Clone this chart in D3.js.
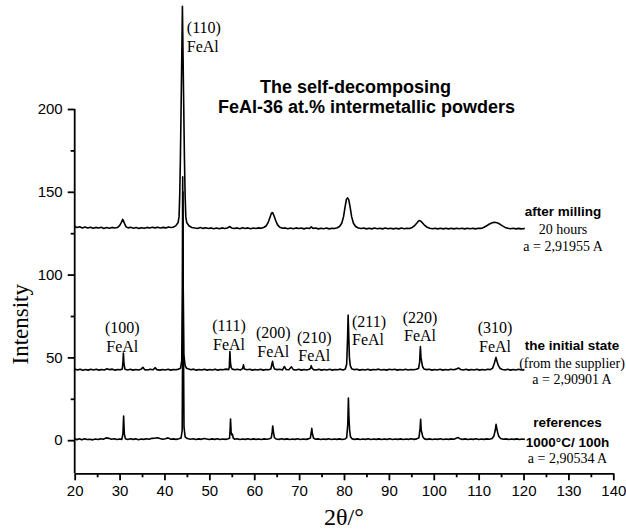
<!DOCTYPE html>
<html>
<head>
<meta charset="utf-8">
<script src="https://cdn.jsdelivr.net/npm/d3@7"></script>
<style>
  body { margin: 0; background: #ffffff; }
  svg { display: block; }
</style>
</head>
<body>
<svg id="xrd-chart"></svg>
<script>
// Diffraction patterns as [2theta, intensity] pairs

// references, 1000 C / 100 h
const referencePattern = [
  [20, 1], [20.5, 0.3], [21, 0.9], [21.6, 0.2], [22.2, 0.8], [22.8, 0.4], [23.4, 0.6], [24, 0.2],
  [24.6, 0.7], [25.2, 0.4], [25.8, 0.9], [26.4, 0.6], [27, 1.4], [27.6, 1.1], [28.2, 0.6], [28.8, 0.9],
  [29.4, 0.4], [30, 0.7], [30.5, 0.5], [30.75, 4], [30.9, 14.6], [31.05, 4], [31.3, 0.8], [31.8, 0.4],
  [32.4, 0.9], [33, 0.5], [33.6, 0.8], [34.2, 0.3], [34.8, 0.7], [35.4, 0.5], [36, 0.9], [36.6, 0.6],
  [37.2, 1.1], [37.8, 1.2], [38.4, 1.5], [39, 1.0], [39.6, 0.6], [40.2, 0.9], [40.8, 1.4], [41.4, 0.6],
  [42, 0.8], [42.6, 0.5], [43.2, 0.9], [43.7, 1.3], [43.95, 6], [44.05, 60], [44.12, 150], [44.2, 70],
  [44.35, 8], [44.6, 2], [45.1, 1], [45.8, 0.6], [46.4, 0.9], [47, 0.4], [47.6, 0.8], [48.2, 0.5],
  [48.8, 1.0], [49.4, 0.7], [50, 0.4], [50.6, 0.8], [51.2, 0.5], [51.8, 0.9], [52.4, 0.4], [53, 0.7],
  [53.6, 0.5], [54.2, 0.9], [54.5, 1.2], [54.62, 6], [54.72, 12.8], [54.85, 5], [55.0, 3.2], [55.15, 3.6],
  [55.3, 1.4], [55.6, 0.6], [56.2, 0.9], [56.8, 0.4], [57.4, 0.7], [58, 0.5], [58.6, 0.9], [59.2, 0.4],
  [59.8, 0.8], [60.4, 0.5], [61, 0.7], [61.6, 0.4], [62.2, 0.8], [62.8, 0.6], [63.4, 0.9], [63.8, 1.4],
  [64.0, 5], [64.12, 8.6], [64.3, 4.5], [64.5, 1.5], [64.9, 0.7], [65.5, 0.5], [66.1, 0.9], [66.7, 0.5],
  [67.3, 0.8], [67.9, 0.4], [68.5, 0.7], [69.1, 0.5], [69.7, 0.9], [70.3, 0.4], [70.9, 0.7], [71.5, 0.5],
  [72.1, 0.8], [72.5, 1.3], [72.7, 4.5], [72.82, 7.2], [72.95, 4], [73.2, 1.3], [73.6, 0.6], [74.2, 0.8],
  [74.8, 0.4], [75.4, 0.7], [76, 0.5], [76.6, 0.9], [77.2, 0.4], [77.8, 0.7], [78.4, 0.5], [79, 0.8],
  [79.6, 0.4], [80.2, 0.7], [80.6, 1.5], [80.85, 10], [80.98, 25.5], [81.1, 14], [81.25, 6], [81.45, 2],
  [81.8, 0.8], [82.4, 0.5], [83, 0.8], [83.6, 0.4], [84.2, 0.7], [84.8, 0.5], [85.4, 0.9], [86, 0.4],
  [86.6, 0.7], [87.2, 0.5], [87.8, 0.8], [88.4, 0.4], [89, 0.7], [89.6, 0.5], [90.2, 0.9], [90.8, 0.4],
  [91.4, 0.7], [92, 0.5], [92.6, 0.8], [93.2, 0.4], [93.8, 0.7], [94.4, 0.5], [95, 0.9], [95.6, 0.5],
  [96.2, 0.8], [96.7, 1.5], [96.95, 7], [97.08, 12.6], [97.2, 6], [97.35, 4.5], [97.55, 2], [97.9, 0.8],
  [98.5, 0.5], [99.1, 0.8], [99.7, 0.4], [100.3, 0.7], [100.9, 0.5], [101.5, 0.9], [102.1, 0.4], [102.7, 0.7],
  [103.3, 0.5], [103.9, 0.8], [104.5, 0.6], [105.1, 1.3], [105.4, 1.6], [105.8, 0.9], [106.4, 0.5], [107, 0.8],
  [107.6, 0.4], [108.2, 0.7], [108.8, 0.5], [109.4, 0.9], [110, 0.4], [110.6, 0.7], [111.2, 0.5], [111.8, 0.8],
  [112.4, 0.6], [113, 1], [113.4, 2.5], [113.7, 6], [113.88, 9.6], [114.05, 7], [114.25, 4.5], [114.5, 2.2],
  [114.9, 1], [115.5, 0.6], [116.1, 0.8], [116.7, 0.4], [117.3, 0.7], [117.9, 0.5], [118.5, 0.8], [119.1, 0.4],
  [119.7, 0.7], [120.3, 0.5]
];

// the initial state (from the supplier)
const initialPattern = [
  [20, 43], [20.6, 42.4], [21.2, 42.9], [21.8, 42.2], [22.4, 42.7], [23, 42.3], [23.6, 42.8], [24.2, 42.4],
  [24.8, 42.9], [25.4, 42.3], [26, 42.7], [26.6, 42.4], [27.2, 43.1], [27.8, 42.6], [28.4, 42.9], [29, 42.3],
  [29.6, 42.7], [30.2, 42.5], [30.6, 43], [30.75, 47], [30.85, 52.6], [30.98, 46], [31.2, 42.9], [31.8, 42.4],
  [32.4, 42.8], [33, 42.3], [33.6, 42.7], [34.2, 42.4], [34.8, 42.9], [35.2, 44], [35.6, 42.6], [36.2, 42.4],
  [36.8, 42.8], [37.5, 42.5], [37.9, 43.8], [38.3, 42.6], [39, 42.3], [39.6, 42.7], [40.2, 42.4], [40.8, 42.8],
  [41.4, 42.3], [42, 42.7], [42.6, 42.5], [43.2, 42.9], [43.6, 43.6], [43.85, 48], [43.98, 90], [44.06, 159],
  [44.15, 100], [44.3, 52], [44.6, 45], [44.9, 43.5], [45.4, 43], [45.9, 42.5], [46.5, 42.9], [47.1, 42.3],
  [47.7, 42.7], [48.3, 42.4], [48.9, 42.8], [49.5, 42.3], [50.1, 42.7], [50.7, 42.4], [51.3, 42.9], [51.9, 42.3],
  [52.5, 42.7], [53.1, 42.5], [53.7, 42.9], [54.3, 42.6], [54.45, 44], [54.58, 53.5], [54.7, 47], [54.85, 44],
  [55.1, 42.9], [55.7, 42.5], [56.3, 42.8], [56.9, 42.4], [57.4, 43.2], [57.6, 45.5], [57.8, 43], [58.4, 42.5],
  [59, 42.8], [59.6, 42.3], [60.2, 42.7], [60.8, 42.4], [61.4, 42.8], [62, 42.3], [62.6, 42.7], [63.2, 42.5],
  [63.7, 43], [63.95, 46], [64.08, 47.6], [64.25, 45], [64.5, 43], [65.1, 42.6], [65.7, 42.8], [66.3, 42.4],
  [66.7, 44.5], [67.1, 42.7], [67.7, 42.5], [68.3, 44.3], [68.7, 42.6], [69.3, 42.4], [69.9, 42.8], [70.5, 42.3],
  [71.1, 42.7], [71.7, 42.4], [72.3, 42.8], [72.55, 43.5], [72.7, 45], [72.85, 43.6], [73.2, 42.6], [73.8, 42.4],
  [74.4, 42.8], [75, 42.3], [75.6, 42.7], [76.2, 42.4], [76.8, 42.8], [77.4, 42.3], [78, 42.7], [78.6, 42.5],
  [79.2, 42.9], [79.8, 42.4], [80.3, 43], [80.6, 46], [80.8, 62], [80.92, 75.5], [81.05, 64], [81.2, 50],
  [81.4, 45], [81.7, 43.2], [82.3, 42.6], [82.9, 42.8], [83.5, 42.3], [84.1, 42.7], [84.7, 42.4], [85.3, 42.8],
  [85.9, 42.3], [86.5, 42.7], [87.1, 42.5], [87.7, 42.9], [88.3, 42.4], [88.9, 42.7], [89.5, 42.3], [90.1, 42.8],
  [90.7, 42.5], [91.3, 42.8], [91.9, 42.3], [92.5, 42.7], [93.1, 42.4], [93.7, 42.8], [94.3, 42.4], [94.9, 42.7],
  [95.5, 42.5], [96.1, 42.8], [96.6, 43.3], [96.85, 47], [97.02, 56.5], [97.15, 50], [97.3, 47.5], [97.5, 44.5],
  [97.8, 43], [98.4, 42.6], [99, 42.8], [99.6, 42.3], [100.2, 42.7], [100.8, 42.4], [101.4, 42.8], [102, 42.3],
  [102.6, 42.7], [103.2, 42.4], [103.8, 42.8], [104.4, 42.5], [105, 42.9], [105.5, 43.6], [106, 42.7], [106.6, 42.4],
  [107.2, 42.8], [107.8, 42.3], [108.4, 42.7], [109, 42.4], [109.6, 42.8], [110.2, 42.3], [110.8, 42.7], [111.4, 42.4],
  [112, 42.8], [112.6, 42.6], [113.1, 43.5], [113.5, 46.5], [113.85, 50], [114.1, 47.5], [114.4, 45], [114.8, 43.3],
  [115.3, 42.7], [115.9, 42.4], [116.5, 42.8], [117.1, 42.3], [117.7, 42.7], [118.3, 42.4], [118.9, 42.8], [119.5, 42.4],
  [120.2, 42.6]
];

// after milling, 20 hours
const milledPattern = [
  [20, 129.3], [20.5, 128.4], [21.1, 128.9], [21.7, 128.2], [22.3, 128.7], [22.9, 128.1], [23.5, 128.6], [24.1, 128],
  [24.7, 128.5], [25.3, 128.1], [25.9, 128.6], [26.5, 127.9], [27.1, 128.4], [27.7, 128], [28.3, 128.5], [28.9, 128.1],
  [29.5, 128.4], [30, 129.5], [30.4, 131.5], [30.7, 133.3], [31.0, 131.5], [31.4, 129], [31.9, 128.2], [32.5, 128.6],
  [33.1, 128], [33.7, 128.4], [34.3, 127.9], [34.9, 128.3], [35.5, 128], [36.1, 128.5], [36.7, 128.1], [37.3, 128.6],
  [37.9, 128.2], [38.5, 128.6], [39.1, 128.1], [39.7, 128.5], [40.3, 128.2], [40.9, 128.7], [41.4, 128.4], [41.9, 128.6],
  [42.5, 129.4], [43.05, 131.5], [43.25, 135], [43.4, 148], [43.55, 170], [43.75, 210], [44.0, 262], [44.25, 210],
  [44.45, 170], [44.6, 148], [44.75, 135], [44.95, 131.5], [45.5, 129.3], [46.1, 128.4], [46.8, 128.1], [47.4, 127.9],
  [48, 128.4], [48.6, 127.9], [49.2, 128.3], [49.8, 127.8], [50.4, 128.2], [51, 127.7], [51.6, 128.1], [52.2, 127.7],
  [52.8, 128.2], [53.4, 127.8], [54, 128.1], [54.6, 129], [55, 128.1], [55.6, 127.8], [56.2, 128.2], [56.8, 127.7],
  [57.4, 128.3], [58, 127.8], [58.6, 128.2], [59.2, 127.7], [59.8, 128.1], [60.4, 127.8], [61, 128.2], [61.6, 128],
  [62.2, 128.6], [62.7, 129.5], [63.1, 131.5], [63.5, 134.5], [63.85, 137.2], [64.1, 137.4], [64.4, 135.5], [64.8, 132.5],
  [65.2, 130], [65.7, 128.6], [66.3, 128], [66.9, 128.2], [67.5, 127.7], [68.1, 128.1], [68.7, 127.7], [69.3, 128.2],
  [69.9, 127.8], [70.5, 128.1], [71.1, 127.6], [71.7, 128.1], [72.3, 127.8], [72.7, 128.8], [73.1, 127.9], [73.7, 128.1],
  [74.3, 127.6], [74.9, 128], [75.5, 127.7], [76.1, 128.1], [76.7, 127.6], [77.3, 128], [77.9, 127.8], [78.5, 128.3],
  [79.0, 129], [79.5, 131], [79.9, 135], [80.25, 141], [80.55, 145.5], [80.8, 146.3], [81.05, 145.3], [81.35, 141],
  [81.7, 135], [82.1, 131], [82.6, 129], [83.2, 128.1], [83.8, 127.8], [84.4, 128.1], [85, 127.6], [85.6, 128],
  [86.2, 127.6], [86.8, 128.1], [87.4, 127.7], [88, 128], [88.6, 127.6], [89.2, 128.1], [89.8, 127.7], [90.4, 128],
  [91, 127.6], [91.6, 128], [92.2, 127.6], [92.8, 128.1], [93.4, 127.7], [94, 128], [94.6, 127.8], [95.2, 128.5],
  [95.7, 129.5], [96.2, 131], [96.6, 132.3], [96.9, 132.6], [97.3, 131.8], [97.8, 130.2], [98.4, 128.8], [99.1, 128],
  [99.7, 127.7], [100.3, 128], [100.9, 127.6], [101.5, 128], [102.1, 127.6], [102.7, 128], [103.3, 127.6], [103.9, 128],
  [104.5, 127.6], [105.1, 128], [105.7, 127.7], [106.3, 128], [106.9, 127.6], [107.5, 128], [108.1, 127.7], [108.7, 128],
  [109.3, 127.6], [109.9, 128], [110.5, 127.9], [111.1, 128.4], [111.7, 129.3], [112.3, 130.4], [112.9, 131.2], [113.5, 131.6],
  [114.1, 131.3], [114.7, 130.5], [115.3, 129.4], [115.9, 128.5], [116.5, 128], [117.1, 127.7], [117.7, 128], [118.3, 127.6],
  [118.9, 127.9], [119.5, 127.6], [120.3, 127.8]
];

// Axis ticks
const xMajorTicks = [20, 30, 40, 50, 60, 70, 80, 90, 100, 110, 120, 130, 140];
const xMinorTicks = [25, 35, 45, 55, 65, 75, 85, 95, 105, 115, 125, 135];
const yMajorTicks = [0, 50, 100, 150, 200];
const yMinorTicks = [25, 75, 125, 175];

// Miller indices of the FeAl reflections and the text under them
const peakIndices = ["(110)", "(100)", "(111)", "(200)", "(210)", "(211)", "(220)", "(310)"];
const phaseName = "FeAl";

// Curve captions, three lines each
const curveCaptions = [
  ["after milling", "20 hours", "a = 2,91955 A"],
  ["the initial state", "(from the supplier)", "a = 2,90901 A"],
  ["references", "1000°C/ 100h", "a = 2,90534 A"]
];

const titleLines = ["The self-decomposing", "FeAl-36 at.% intermetallic powders"];

// Canvas and plot frame
const CANVAS_WIDTH = 626;
const CANVAS_HEIGHT = 531;
const PLOT_LEFT = 74.7;
const PLOT_RIGHT = 613.3;
const PLOT_TOP = 109;
const PLOT_BOTTOM = 473.3;

const SANS = "'Liberation Sans', Arial, sans-serif";
const SERIF = "'Liberation Serif', 'Times New Roman', serif";

const svg = d3
  .select("#xrd-chart")
  .attr("width", CANVAS_WIDTH)
  .attr("height", CANVAS_HEIGHT)
  .attr("viewBox", `0 0 ${CANVAS_WIDTH} ${CANVAS_HEIGHT}`);

const x = d3.scaleLinear().domain([20, 140]).range([PLOT_LEFT, PLOT_RIGHT]);
const y = d3.scaleLinear().domain([-20, 200]).range([PLOT_BOTTOM, PLOT_TOP]);

// Axes: major ticks with labels, minor ticks without
const xAxis = svg.append("g").attr("transform", `translate(0, ${PLOT_BOTTOM})`);
xAxis.call(
  d3.axisBottom(x).tickValues(xMajorTicks).tickFormat(d3.format("d")).tickSize(7).tickPadding(5).tickSizeOuter(0)
);
xAxis
  .append("g")
  .call(d3.axisBottom(x).tickValues(xMinorTicks).tickFormat("").tickSize(4).tickSizeOuter(0))
  .select(".domain")
  .remove();

const yAxis = svg.append("g").attr("transform", `translate(${PLOT_LEFT}, 0)`);
yAxis.call(
  d3.axisLeft(y).tickValues(yMajorTicks).tickFormat(d3.format("d")).tickSize(7).tickPadding(5).tickSizeOuter(0)
);
yAxis
  .append("g")
  .call(d3.axisLeft(y).tickValues(yMinorTicks).tickFormat("").tickSize(4).tickSizeOuter(0))
  .select(".domain")
  .remove();

// y axis stops at 200, the line starts from the bottom of the frame
yAxis.select(".domain").attr("d", `M0,${PLOT_BOTTOM}V${y(200)}`);

svg.selectAll(".domain, .tick line").attr("stroke", "#000").attr("stroke-width", 1.8);
svg
  .selectAll(".tick text")
  .attr("fill", "#000")
  .style("font-family", SANS)
  .style("font-size", "15px");

// Axis titles
svg
  .append("text")
  .attr("transform", `translate(28, ${y(70)}) rotate(-90)`)
  .attr("text-anchor", "middle")
  .style("font-family", SERIF)
  .style("font-size", "23px")
  .text("Intensity");

svg
  .append("text")
  .attr("x", x(80))
  .attr("y", 525)
  .attr("text-anchor", "middle")
  .style("font-family", SERIF)
  .style("font-size", "24px")
  .text("2θ/°");

// The three patterns
const line = d3
  .line()
  .x((d) => x(d[0]))
  .y((d) => y(d[1]));

svg
  .selectAll("path.pattern")
  .data([referencePattern, initialPattern, milledPattern])
  .enter()
  .append("path")
  .attr("class", "pattern")
  .attr("d", line)
  .attr("fill", "none")
  .attr("stroke", "#000")
  .attr("stroke-width", 1.6)
  .attr("stroke-linejoin", "round");

// Where each reflection label sits: [2theta, intensity of first baseline, anchor]
const peakLabelPlace = {
  "(110)": [44.98, 245.7, "start"],
  "(100)": [30.6, 64.7, "middle"],
  "(111)": [54.38, 65.9, "middle"],
  "(200)": [64.25, 61.7, "middle"],
  "(210)": [73.38, 58.9, "middle"],
  "(211)": [81.78, 68.5, "start"],
  "(220)": [96.93, 70.9, "middle"],
  "(310)": [113.64, 64.5, "middle"]
};

const peakLabels = svg
  .selectAll("text.peak")
  .data(peakIndices)
  .enter()
  .append("text")
  .attr("class", "peak")
  .attr("text-anchor", (d) => peakLabelPlace[d][2])
  .style("font-family", SERIF)
  .style("font-size", "16px");

peakLabels
  .append("tspan")
  .attr("x", (d) => x(peakLabelPlace[d][0]))
  .attr("y", (d) => y(peakLabelPlace[d][1]))
  .text((d) => d);

peakLabels
  .append("tspan")
  .attr("x", (d) => x(peakLabelPlace[d][0]))
  .attr("dy", 18.7)
  .text(phaseName);

// Captions to the right of each curve: centre (2theta) and first baseline (intensity)
const captionPlace = [
  [128.8, 135.6],
  [130.8, 54.5],
  [129.8, 7.7]
];
const captionLineGaps = [
  [18.3, 17],
  [17.7, 16.6],
  [19.8, 16]
];

curveCaptions.forEach((caption, i) => {
  const cx = x(captionPlace[i][0]);
  let cy = y(captionPlace[i][1]);
  caption.forEach((txt, j) => {
    if (j > 0) cy += captionLineGaps[i][j - 1];
    const bold = j === 0 || (i === 2 && j === 1);
    svg
      .append("text")
      .attr("x", cx)
      .attr("y", cy)
      .attr("text-anchor", "middle")
      .style("font-family", bold ? SANS : SERIF)
      .style("font-weight", bold ? "bold" : "normal")
      .style("font-size", bold ? "13.5px" : "14px")
      .text(txt);
  });
});

// Title
svg
  .selectAll("text.title")
  .data(titleLines)
  .enter()
  .append("text")
  .attr("class", "title")
  .attr("x", (d, i) => (i === 0 ? 260 : 218))
  .attr("y", (d, i) => 92.7 + i * 20.6)
  .style("font-family", SANS)
  .style("font-weight", "bold")
  .style("font-size", "18px")
  .text((d) => d);
</script>
</body>
</html>
